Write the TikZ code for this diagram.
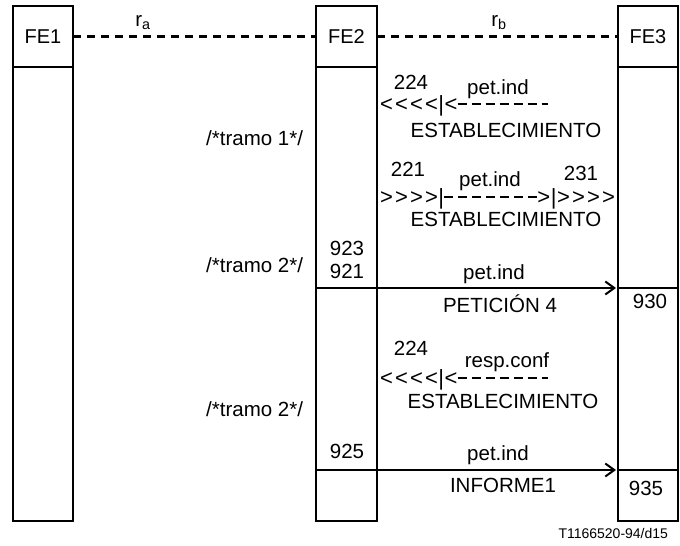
\documentclass[tikz,border=0pt]{standalone}
\usepackage{fontspec}
\setmainfont{Liberation Sans}
\usetikzlibrary{arrows.meta}
\begin{document}
\begin{tikzpicture}[x=1pt,y=-1pt,
  box/.style={draw,line width=2pt,inner sep=0pt,outer sep=0pt,minimum width=60pt},
  hdr/.style={box,minimum height=61pt,font=\fontsize{20}{24}\selectfont},
  body/.style={box,minimum height=454pt},
  txt/.style={inner sep=0pt,outer sep=0pt,font=\fontsize{20.5}{24}\selectfont},
  chev/.style={inner sep=0pt,outer sep=0pt,font=\fontsize{22}{24}\selectfont},
  small/.style={inner sep=0pt,outer sep=0pt,font=\fontsize{14}{16}\selectfont},
  lnk/.style={line width=2.5pt,dash pattern=on 8pt off 6pt},
  rowdash/.style={line width=2.6pt,dash pattern=on 9pt off 5pt},
  msg/.style={line width=2.2pt,-{Straight Barb[length=9pt,width=13pt,line width=2pt]}},
  sect/.style={line width=2.2pt}]
\useasboundingbox (0,0) rectangle (680,546);

% entities
\node[hdr] (fe1) at (43,36.5) {FE1};
\node[body,anchor=north] (fe1b) at (fe1.south) {};
\node[hdr,minimum width=61pt] (fe2) at (346.5,36.5) {FE2};
\node[body,minimum width=61pt,anchor=north] (fe2b) at (fe2.south) {};
\node[hdr] (fe3) at (648,36.5) {FE3};
\node[body,anchor=north] (fe3b) at (fe3.south) {};

% reference points
\draw[lnk] (fe1.east) -- (fe2.west);
\draw[lnk] (fe2.east) -- (fe3.west);
\node[txt,anchor=base] (ra) at (143,26) {r\textsubscript{a}};
\node[txt,anchor=base] (rb) at (499,26) {r\textsubscript{b}};

% row 1
\node[txt,anchor=base] (t224a) at (411,89) {224};
\node[txt,anchor=base] (pa) at (498,94) {pet.ind};
\node[chev,anchor=base west] (ha) at (380,111.5) {<\kern2.2pt<\kern2.2pt<\kern2.2pt<\kern0.5pt|\kern0.5pt<};
\coordinate (ea) at (548,104);
\draw[rowdash] (ha.east |- ea) -- (ea);
\node[txt,anchor=base] (esta) at (506,137) {ESTABLECIMIENTO};

\node[txt,anchor=base east] (tr1) at (303,145) {/*tramo 1*/};

% row 2
\node[txt,anchor=base] (t221) at (408,176) {221};
\node[txt,anchor=base] (pb) at (490,186) {pet.ind};
\node[txt,anchor=base] (t231) at (581,180) {231};
\node[chev,anchor=base west] (hb1) at (380,204.5) {>\kern2.2pt>\kern2.2pt>\kern2.2pt>\kern0.5pt|};
\node[chev,anchor=base east] (hb2) at (615,204.5) {>\kern0.5pt|\kern0.5pt>\kern2.2pt>\kern2.2pt>\kern2.2pt>};
\coordinate (eb) at (500,197);
\draw[rowdash] (hb1.east |- eb) -- (hb2.west |- eb);
\node[txt,anchor=base] (estb) at (506,226) {ESTABLECIMIENTO};

% row 3
\node[txt,anchor=base] (t923) at (347,255) {923};
\node[txt,anchor=base] (t921) at (347,278) {921};
\node[txt,anchor=base east] (tr2) at (303,272) {/*tramo 2*/};
\node[txt,anchor=base] (pc) at (494,279) {pet.ind};
\coordinate (y1) at (0,288);
\draw[msg] (fe2b.west |- y1) -- ([xshift=-2pt]fe3b.west |- y1);
\draw[sect] (fe3b.west |- y1) -- (fe3b.east |- y1);
\node[txt,anchor=base] (pet4) at (500,312) {PETICIÓN 4};
\node[txt,anchor=base] (t930) at (650,308) {930};

% row 4
\node[txt,anchor=base] (t224b) at (411,355) {224};
\node[txt,anchor=base] (rc) at (507,367) {resp.conf};
\node[chev,anchor=base west] (hc) at (380,385.5) {<\kern2.2pt<\kern2.2pt<\kern2.2pt<\kern0.5pt|\kern0.5pt<};
\coordinate (ec) at (548,378);
\draw[rowdash] (hc.east |- ec) -- (ec);
\node[txt,anchor=base] (estc) at (503,408) {ESTABLECIMIENTO};
\node[txt,anchor=base east] (tr3) at (303,416) {/*tramo 2*/};

% row 5
\node[txt,anchor=base] (t925) at (347,458) {925};
\node[txt,anchor=base] (pd) at (498,460) {pet.ind};
\coordinate (y2) at (0,470);
\draw[msg] (fe2b.west |- y2) -- ([xshift=-2pt]fe3b.west |- y2);
\draw[sect] (fe3b.west |- y2) -- (fe3b.east |- y2);
\node[txt,anchor=base] (inf) at (503,492) {INFORME1};
\node[txt,anchor=base] (t935) at (646,495) {935};

\node[small,anchor=base east] (ref) at (668,538) {T1166520-94/d15};
\end{tikzpicture}
\end{document}
